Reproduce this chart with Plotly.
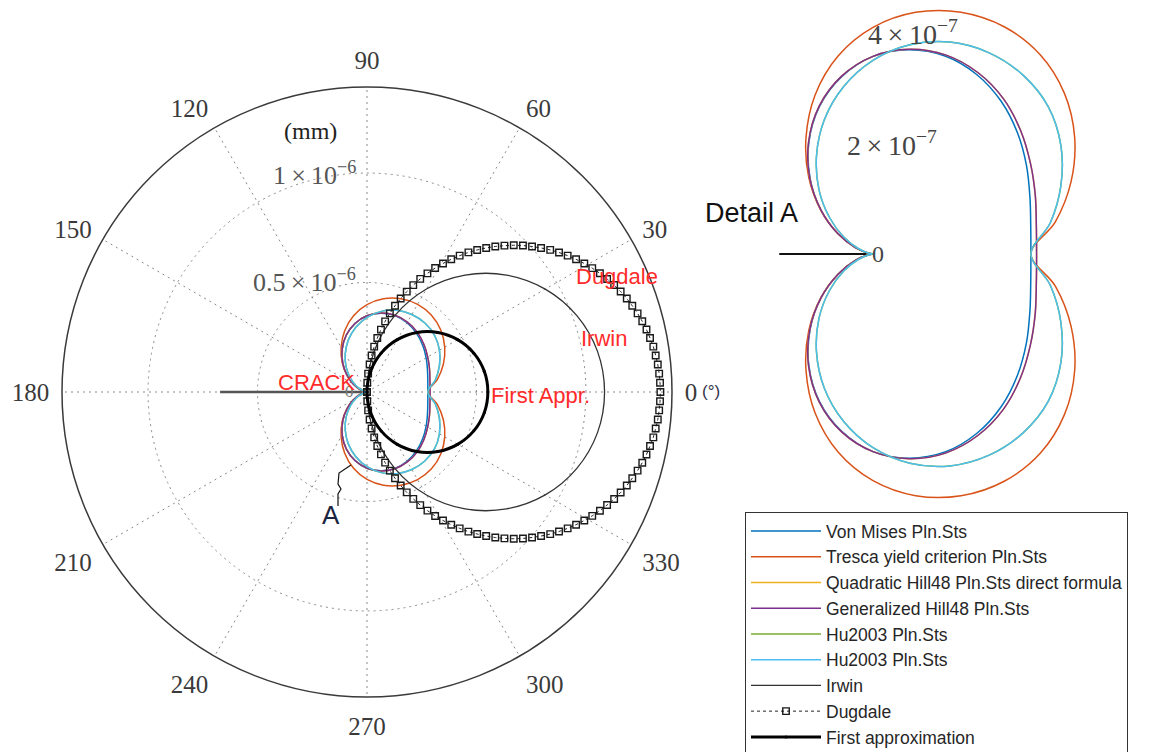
import plotly.graph_objects as go

W, H = 1153, 752
OFF = 8  # the page body margin that shifts the figure inside the window

# ---------------- data (radius values in units of 1e-7 mm) ----------------
theta_zone = [0, 10, 20, 30, 40, 50, 60, 70, 80, 90, 100, 110, 120, 130, 140, 150, 160, 170, 180,
              190, 200, 210, 220, 230, 240, 250, 260, 270, 280, 290, 300, 310, 320, 330, 340, 350, 360]

r_vonmises = [2.78, 2.82, 2.94, 3.12, 3.32, 3.51, 3.65, 3.71, 3.65, 3.48, 3.17, 2.76, 2.26, 1.72, 1.19, 0.71, 0.33, 0.08, 0.00,
              0.08, 0.33, 0.71, 1.19, 1.72, 2.26, 2.76, 3.17, 3.48, 3.65, 3.71, 3.65, 3.51, 3.32, 3.12, 2.94, 2.82, 2.78]
r_tresca = [2.78, 3.26, 3.71, 4.10, 4.40, 4.58, 4.62, 4.53, 4.32, 3.99, 3.54, 2.98, 2.36, 1.76, 1.20, 0.71, 0.33, 0.08, 0.00,
            0.08, 0.33, 0.71, 1.20, 1.76, 2.36, 2.98, 3.54, 3.99, 4.32, 4.53, 4.62, 4.58, 4.40, 4.10, 3.71, 3.26, 2.78]
r_quad_hill48 = [2.88, 2.92, 3.04, 3.20, 3.39, 3.57, 3.69, 3.73, 3.66, 3.48, 3.18, 2.77, 2.27, 1.73, 1.19, 0.71, 0.33, 0.08, 0.00,
                 0.08, 0.33, 0.71, 1.19, 1.73, 2.27, 2.77, 3.18, 3.48, 3.66, 3.73, 3.69, 3.57, 3.39, 3.20, 3.04, 2.92, 2.88]
r_gen_hill48 = [2.88, 2.92, 3.04, 3.20, 3.39, 3.57, 3.69, 3.73, 3.66, 3.48, 3.18, 2.77, 2.27, 1.73, 1.19, 0.71, 0.33, 0.08, 0.00,
                0.08, 0.33, 0.71, 1.19, 1.73, 2.27, 2.77, 3.18, 3.48, 3.66, 3.73, 3.69, 3.57, 3.39, 3.20, 3.04, 2.92, 2.88]
r_hu2003_a = [2.78, 3.17, 3.52, 3.82, 4.03, 4.11, 4.09, 3.97, 3.74, 3.41, 2.99, 2.51, 1.99, 1.48, 1.00, 0.59, 0.27, 0.07, 0.00,
              0.07, 0.27, 0.59, 1.00, 1.48, 1.99, 2.51, 2.99, 3.41, 3.74, 3.97, 4.09, 4.11, 4.03, 3.82, 3.52, 3.17, 2.78]
r_hu2003_b = [2.78, 3.17, 3.52, 3.82, 4.03, 4.11, 4.09, 3.97, 3.74, 3.41, 2.99, 2.51, 1.99, 1.48, 1.00, 0.59, 0.27, 0.07, 0.00,
              0.07, 0.27, 0.59, 1.00, 1.48, 1.99, 2.51, 2.99, 3.41, 3.74, 3.97, 4.09, 4.11, 4.03, 3.82, 3.52, 3.17, 2.78]

theta_circ = [-90, -80, -70, -60, -50, -40, -30, -20, -10, 0, 10, 20, 30, 40, 50, 60, 70, 80, 90]
r_irwin = [0.00, 1.88, 3.71, 5.43, 6.97, 8.31, 9.40, 10.20, 10.69, 10.85,
           10.69, 10.20, 9.40, 8.31, 6.97, 5.43, 3.71, 1.88, 0.00]
r_first = [0.00, 0.96, 1.89, 2.76, 3.55, 4.23, 4.78, 5.19, 5.44, 5.52,
           5.44, 5.19, 4.78, 4.23, 3.55, 2.76, 1.89, 0.96, 0.00]

theta_dugdale = [-90.0, -88.2, -86.4, -84.6, -82.8, -81.0, -79.2, -77.4, -75.6, -73.8, -72.0, -70.2, -68.4,
                 -66.6, -64.8, -63.0, -61.2, -59.4, -57.6, -55.8, -54.0, -52.2, -50.4, -48.6, -46.8, -45.0,
                 -43.2, -41.4, -39.6, -37.8, -36.0, -34.2, -32.4, -30.6, -28.8, -27.0, -25.2, -23.4, -21.6,
                 -19.8, -18.0, -16.2, -14.4, -12.6, -10.8, -9.0, -7.2, -5.4, -3.6, -1.8, 0.0,
                 1.8, 3.6, 5.4, 7.2, 9.0, 10.8, 12.6, 14.4, 16.2, 18.0, 19.8, 21.6, 23.4, 25.2, 27.0, 28.8,
                 30.6, 32.4, 34.2, 36.0, 37.8, 39.6, 41.4, 43.2, 45.0, 46.8, 48.6, 50.4, 52.2, 54.0, 55.8,
                 57.6, 59.4, 61.2, 63.0, 64.8, 66.6, 68.4, 70.2, 72.0, 73.8, 75.6, 77.4, 79.2, 81.0, 82.8,
                 84.6, 86.4, 88.2, 90.0]
r_dugdale = [0.00, 0.42, 0.84, 1.26, 1.68, 2.10, 2.51, 2.92, 3.33, 3.74, 4.14, 4.54, 4.93, 5.32, 5.71, 6.08,
             6.46, 6.82, 7.18, 7.53, 7.88, 8.21, 8.54, 8.86, 9.17, 9.48, 9.77, 10.05, 10.32, 10.59, 10.84,
             11.08, 11.31, 11.53, 11.74, 11.94, 12.12, 12.30, 12.46, 12.61, 12.74, 12.87, 12.98, 13.08,
             13.16, 13.24, 13.29, 13.34, 13.37, 13.39, 13.40,
             13.39, 13.37, 13.34, 13.29, 13.24, 13.16, 13.08, 12.98, 12.87, 12.74, 12.61, 12.46, 12.30,
             12.12, 11.94, 11.74, 11.53, 11.31, 11.08, 10.84, 10.59, 10.32, 10.05, 9.77, 9.48, 9.17, 8.86,
             8.54, 8.21, 7.88, 7.53, 7.18, 6.82, 6.46, 6.08, 5.71, 5.32, 4.93, 4.54, 4.14, 3.74, 3.33,
             2.92, 2.51, 2.10, 1.68, 1.26, 0.84, 0.42, 0.00]

crack_theta = [180, 180]
crack_main_r = [0.0, 6.71]
crack_detail_r = [0.0, 1.65]

angle_ticks = [0, 30, 60, 90, 120, 150, 180, 210, 240, 270, 300, 330]
angle_labels = [str(a) for a in angle_ticks]

series = [
    ("Von Mises Pln.Sts", r_vonmises, "#0072BD"),
    ("Tresca yield criterion Pln.Sts", r_tresca, "#D95319"),
    ("Quadratic Hill48 Pln.Sts direct formula", r_quad_hill48, "#EDB120"),
    ("Generalized Hill48 Pln.Sts", r_gen_hill48, "#7E2F8E"),
    ("Hu2003 Pln.Sts", r_hu2003_a, "#77AC30"),
    ("Hu2003 Pln.Sts", r_hu2003_b, "#4DBEEE"),
]


def px(x):
    return (x - OFF) / W


def py(y):
    return 1 - (y - OFF) / H


fig = go.Figure()

# crack lines
fig.add_trace(go.Scatterpolar(r=crack_main_r, theta=crack_theta, mode="lines", subplot="polar",
                              line=dict(color="#555555", width=2.5), showlegend=False, hoverinfo="skip"))
fig.add_trace(go.Scatterpolar(r=crack_detail_r, theta=crack_theta, mode="lines", subplot="polar2",
                              line=dict(color="#111111", width=2), showlegend=False, hoverinfo="skip"))

for i, (name, rv, col) in enumerate(series):
    g = "g%d" % i
    fig.add_trace(go.Scatterpolar(r=rv, theta=theta_zone, mode="lines", name=name, subplot="polar",
                                  legendgroup=g, line=dict(color=col, width=1.5, shape="spline")))
    fig.add_trace(go.Scatterpolar(r=rv, theta=theta_zone, mode="lines", name=name, subplot="polar2",
                                  legendgroup=g, showlegend=False,
                                  line=dict(color=col, width=1.5, shape="spline")))

fig.add_trace(go.Scatterpolar(r=r_irwin, theta=theta_circ, mode="lines", name="Irwin", subplot="polar",
                              legendgroup="irwin", line=dict(color="#333333", width=1.3, shape="spline")))
fig.add_trace(go.Scatterpolar(r=r_dugdale, theta=theta_dugdale, mode="lines+markers", name="Dugdale",
                              subplot="polar", legendgroup="dug",
                              line=dict(color="#222222", width=1, dash="dot"),
                              marker=dict(symbol="square-open", size=6.5, color="#1a1a1a",
                                          line=dict(width=1.4, color="#1a1a1a"))))
fig.add_trace(go.Scatterpolar(r=r_first, theta=theta_circ, mode="lines+markers", name="First approximation",
                              subplot="polar", legendgroup="first",
                              line=dict(color="#000000", width=3, shape="spline"),
                              marker=dict(symbol="circle", size=3, color="#000000")))

grid_col = "#8a8a8a"
R_DET = 246          # inset radius in px
DET_PX_PER_UNIT = 56.8
fig.update_layout(
    width=W, height=H,
    margin=dict(l=0, r=0, t=0, b=0, autoexpand=False),
    paper_bgcolor="white",
    template="none",
    polar=dict(
        domain=dict(x=[px(62), px(672)], y=[py(697), py(87)]),
        bgcolor="white",
        radialaxis=dict(range=[0, 13.93], tickvals=[5, 10], showticklabels=False, ticks="",
                        showline=False, gridcolor=grid_col, griddash="2px,4px", gridwidth=1.3),
        angularaxis=dict(rotation=0, direction="counterclockwise", tickvals=angle_ticks,
                         ticktext=angle_labels, ticks="outside", ticklen=7,
                         tickcolor="rgba(0,0,0,0)", showline=True, linecolor="#3a3a3a",
                         linewidth=1.5, gridcolor=grid_col, griddash="2px,4px", gridwidth=1.3,
                         tickfont=dict(family="Liberation Serif", size=25, color="#3a3a3a")),
    ),
    polar2=dict(
        domain=dict(x=[px(873 - R_DET), px(873 + R_DET)], y=[py(254 + R_DET), py(254 - R_DET)]),
        bgcolor="rgba(0,0,0,0)",
        radialaxis=dict(range=[0, R_DET / DET_PX_PER_UNIT], visible=False),
        angularaxis=dict(rotation=0, direction="counterclockwise", visible=False),
    ),
    showlegend=True,
    legend=dict(x=px(745), y=py(512), xanchor="left", yanchor="top",
                bgcolor="white", bordercolor="#333333", borderwidth=1,
                font=dict(family="Liberation Sans", size=17.5, color="#262626"),
                itemwidth=70, tracegroupgap=0),
)

ann = []


def add_text(x, y, text, size, color, family="Liberation Serif", xanchor="center"):
    ann.append(dict(x=px(x), y=py(y), xref="paper", yref="paper", text=text, showarrow=False,
                    xanchor=xanchor, yanchor="middle",
                    font=dict(family=family, size=size, color=color)))


TS = "\u2009"  # thin space around the multiplication sign
add_text(310, 131, "(mm)", 24, "#222222")
add_text(358, 174, "1" + TS + "×" + TS + "10<sup>−6</sup>", 26, "#555555", xanchor="right")
add_text(358, 281, "0.5" + TS + "×" + TS + "10<sup>−6</sup>", 26, "#555555", xanchor="right")
add_text(349, 392, "0", 17, "#777777")
add_text(711, 391, "(°)", 17, "#33334a", family="Liberation Sans")
add_text(316, 382, "CRACK", 22, "#ff2b2b", family="Liberation Sans")
add_text(617, 276, "Dugdale", 22, "#ff2b2b", family="Liberation Sans")
add_text(604, 338, "Irwin", 22, "#ff2b2b", family="Liberation Sans")
add_text(540, 395, "First Appr.", 22, "#ff2b2b", family="Liberation Sans")
add_text(331, 515, "A", 26, "#1a2440", family="Liberation Sans")
add_text(703, 213, "Detail A", 27, "#111111", family="Liberation Sans", xanchor="left")
add_text(913, 33, "4" + TS + "×" + TS + "10<sup>−7</sup>", 28, "#444444")
add_text(892, 143, "2" + TS + "×" + TS + "10<sup>−7</sup>", 28, "#444444")
add_text(878, 254, "0", 24, "#444444")

fig.update_layout(annotations=ann)

# pointer line from the detail region to label A
pts = [(351, 465), (339, 473), (338, 484), (341, 489), (338, 494), (338, 506)]
path = "M " + " L ".join("%.5f,%.5f" % (px(a), py(b)) for a, b in pts)
fig.add_shape(type="path", path=path, xref="paper", yref="paper",
              line=dict(color="#111111", width=1.2))

# let the magnified detail curves run past the inset's circular clip, as in the reference
unclip = ("document.querySelectorAll('[clip-path*=\"polar2\"]').forEach(function(e){"
          "e.removeAttribute('clip-path');});")
fig.write_html("out.html", post_script=unclip)
